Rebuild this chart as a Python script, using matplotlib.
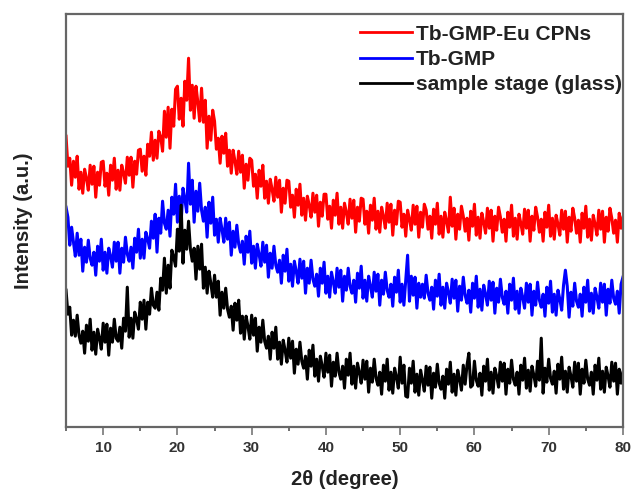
import matplotlib.pyplot as plt
import numpy as np

plt.rcParams['font.family'] = ['Liberation Sans', 'DejaVu Sans']

# 2theta grid, 0.25 degree steps from 5 to 80
two_theta = np.arange(5, 80.01, 0.25)

# intensities (a.u., curves already stacked)
red_eu = [291, 261, 269, 242, 266, 250, 271, 238, 255, 234, 258, 249, 237, 262, 243, 261,
          230, 255, 242, 265, 266, 241, 254, 232, 262, 247, 269, 238, 257, 237, 262, 254,
          244, 270, 252, 270, 240, 266, 253, 277, 278, 256, 271, 252, 283, 271, 295, 267,
          287, 269, 296, 290, 276, 316, 290, 320, 279, 318, 301, 338, 341, 308, 329, 301,
          346, 327, 369, 317, 342, 309, 341, 325, 306, 339, 305, 327, 279, 311, 287, 317,
          306, 278, 289, 264, 291, 274, 294, 261, 277, 254, 277, 266, 253, 276, 255, 272,
          239, 263, 247, 269, 267, 241, 253, 229, 257, 241, 262, 229, 246, 224, 248, 238,
          226, 250, 230, 247, 215, 239, 224, 247, 246, 220, 232, 210, 238, 222, 243, 212,
          229, 207, 231, 222, 210, 234, 215, 232, 201, 225, 211, 233, 233, 208, 221, 199,
          227, 212, 234, 203, 220, 199, 224, 215, 203, 228, 209, 227, 195, 220, 206, 229,
          228, 203, 216, 194, 222, 207, 229, 198, 216, 195, 220, 211, 199, 224, 205, 223,
          192, 217, 203, 226, 225, 200, 213, 191, 217, 208, 197, 222, 203, 221, 190, 215,
          200, 223, 217, 198, 211, 189, 218, 203, 224, 193, 211, 190, 215, 206, 195, 230,
          201, 219, 188, 213, 198, 221, 211, 196, 209, 187, 216, 201, 223, 192, 210, 189,
          214, 205, 194, 219, 199, 217, 186, 211, 197, 220, 210, 195, 208, 186, 215, 200,
          222, 191, 209, 188, 213, 204, 193, 218, 199, 217, 186, 211, 197, 220, 210, 195,
          208, 186, 215, 200, 222, 191, 209, 188, 212, 203, 192, 217, 198, 216, 185, 210,
          196, 219, 209, 194, 207, 185, 214, 199, 221, 190, 208, 187, 212, 203, 192, 217,
          198, 216, 185, 210, 196, 219, 209, 194, 207, 185, 214, 199, 210]
blue_gmp = [220, 210, 182, 200, 185, 171, 194, 172, 188, 156, 180, 165, 187, 169, 162, 175,
            152, 181, 166, 188, 157, 175, 154, 179, 171, 160, 185, 166, 185, 154, 179, 165,
            190, 173, 166, 180, 159, 189, 175, 198, 169, 188, 169, 195, 188, 179, 206, 189,
            213, 175, 209, 194, 226, 204, 198, 217, 191, 230, 213, 243, 205, 231, 204, 239,
            228, 215, 264, 223, 247, 205, 236, 216, 244, 217, 206, 220, 190, 225, 204, 230,
            192, 208, 185, 209, 198, 185, 209, 188, 205, 172, 196, 180, 202, 183, 175, 186,
            163, 191, 175, 196, 164, 181, 159, 183, 173, 161, 185, 165, 182, 150, 174, 159,
            181, 162, 155, 167, 144, 172, 156, 178, 146, 163, 141, 166, 156, 144, 168, 149,
            166, 134, 159, 144, 167, 148, 141, 153, 131, 159, 144, 165, 134, 151, 130, 155,
            145, 134, 159, 140, 157, 126, 151, 137, 159, 141, 134, 147, 125, 154, 139, 161,
            129, 147, 126, 151, 141, 130, 155, 136, 153, 122, 147, 133, 155, 137, 130, 143,
            121, 150, 135, 157, 125, 143, 122, 147, 172, 126, 151, 132, 150, 119, 144, 130,
            143, 129, 152, 134, 127, 140, 118, 147, 131, 153, 122, 140, 119, 144, 135, 124,
            148, 129, 147, 116, 141, 127, 150, 132, 124, 137, 115, 144, 129, 151, 120, 138,
            117, 142, 133, 122, 146, 127, 145, 114, 139, 125, 148, 130, 123, 136, 114, 143,
            127, 149, 118, 136, 114, 139, 130, 119, 144, 125, 143, 112, 136, 122, 145, 127,
            120, 133, 111, 140, 124, 146, 115, 133, 112, 137, 128, 117, 142, 157, 141, 110,
            135, 121, 144, 126, 120, 133, 111, 140, 125, 147, 116, 134, 114, 139, 130, 119,
            144, 125, 143, 112, 138, 124, 147, 129, 123, 136, 114, 143, 150]
black_glass = [137, 113, 120, 92, 107, 91, 112, 92, 84, 96, 74, 102, 86, 108, 77, 95,
               73, 98, 89, 78, 104, 85, 103, 72, 99, 85, 108, 89, 86, 100, 79, 109,
               96, 140, 90, 109, 89, 115, 108, 98, 125, 108, 127, 98, 125, 113, 139, 122,
               119, 135, 117, 149, 137, 169, 134, 162, 139, 177, 170, 161, 198, 176, 222, 164,
               197, 178, 206, 178, 166, 179, 148, 181, 158, 183, 139, 160, 134, 156, 144, 130,
               152, 130, 146, 112, 135, 119, 139, 118, 110, 121, 97, 124, 107, 127, 94, 111,
               88, 111, 101, 88, 112, 92, 109, 76, 100, 85, 107, 86, 79, 91, 68, 95,
               79, 100, 68, 85, 63, 87, 77, 65, 89, 69, 86, 54, 78, 63, 85, 66,
               59, 71, 48, 77, 61, 82, 51, 68, 46, 71, 61, 50, 74, 55, 72, 41,
               65, 51, 74, 55, 48, 61, 39, 68, 52, 74, 43, 61, 39, 64, 55, 44,
               67, 48, 66, 35, 59, 45, 68, 49, 42, 55, 33, 62, 46, 68, 37, 55,
               34, 59, 50, 39, 70, 44, 62, 31, 30, 59, 44, 66, 35, 53, 32, 57,
               47, 36, 61, 42, 60, 29, 54, 40, 63, 44, 38, 51, 29, 58, 43, 65,
               35, 53, 32, 57, 48, 37, 62, 43, 62, 74, 40, 42, 66, 47, 41, 54,
               32, 61, 46, 68, 37, 55, 34, 59, 51, 40, 65, 46, 64, 33, 58, 44,
               67, 48, 42, 55, 33, 62, 47, 69, 39, 57, 36, 61, 52, 41, 66, 47,
               89, 34, 59, 45, 68, 49, 43, 56, 34, 63, 48, 70, 38, 56, 35, 60,
               51, 40, 65, 46, 64, 33, 58, 44, 67, 48, 42, 55, 33, 62, 47, 69,
               38, 56, 35, 60, 51, 40, 65, 46, 64, 33, 58, 44, 55]

labels = ['Tb-GMP-Eu CPNs', 'Tb-GMP', 'sample stage (glass)']

fig = plt.figure(figsize=(6.35, 4.91), dpi=100)
ax = fig.add_axes([0.104, 0.130, 0.877, 0.841])

ax.plot(two_theta, red_eu, color='#ff0000', lw=2.2, label=labels[0])
ax.plot(two_theta, blue_gmp, color='#0000ff', lw=2.2, label=labels[1])
ax.plot(two_theta, black_glass, color='black', lw=2.2, label=labels[2])

ax.set_xlim(5, 80)
ax.set_ylim(0, 413)
ax.set_xticks(range(10, 81, 10))
ax.set_xticks(range(5, 81, 5), minor=True)
ax.set_yticks([])
ax.tick_params(axis='x', direction='out', length=6, width=1.2, pad=4,
               labelsize=11, color='#777777', labelcolor='#333333')
ax.tick_params(axis='x', which='minor', direction='out', length=3, width=1.2, color='#555555')
for lab in ax.get_xticklabels():
    lab.set_fontweight('bold')
for sp in ax.spines.values():
    sp.set_linewidth(1.6)
    sp.set_color('#666666')

ax.set_xlabel('2θ (degree)', fontsize=14.5, fontweight='bold', labelpad=11, color='#222222')
ax.set_ylabel('Intensity (a.u.)', fontsize=14.5, fontweight='bold', labelpad=24, color='#222222')

leg = ax.legend(loc='upper right', bbox_to_anchor=(1.005, 0.985), frameon=False,
                prop={'weight': 'bold', 'size': 15},
                handlelength=2.5, handletextpad=0.15, labelspacing=0.3,
                borderaxespad=0.0, borderpad=0.2)
for line in leg.get_lines():
    line.set_linewidth(2.0)
for t in leg.get_texts():
    t.set_color('#222222')

fig.savefig('out.png', dpi=100)
